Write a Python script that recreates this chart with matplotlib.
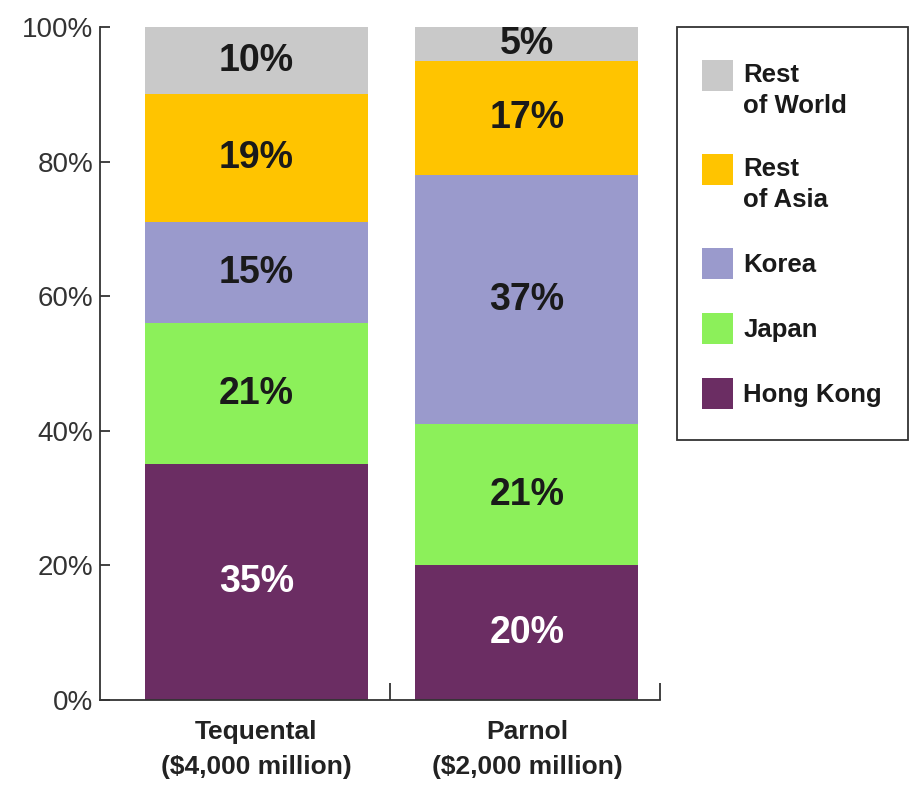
import matplotlib.pyplot as plt
from matplotlib.patches import Patch, Rectangle
from matplotlib.legend_handler import HandlerPatch

plt.rcParams['font.family'] = ['Liberation Sans', 'DejaVu Sans']

# Data
companies = ["Tequental\n($4,000 million)", "Parnol\n($2,000 million)"]
regions = ["Hong Kong", "Japan", "Korea", "Rest\nof Asia", "Rest\nof World"]
hong_kong = [35, 20]
japan = [21, 21]
korea = [15, 37]
rest_asia = [19, 17]
rest_world = [10, 5]
yticks = [0, 20, 40, 60, 80, 100]

colors = ["#6b2d63", "#8cf05a", "#9a9acc", "#ffc400", "#c9c9c9"]
text_colors = ["white", "#1a1a1a", "#1a1a1a", "#1a1a1a", "#1a1a1a"]
axis_col = "#333333"
W, H = 910, 786

fig = plt.figure(figsize=(W / 100, H / 100), dpi=100)
ax = fig.add_axes([100 / W, 1 - 700 / H, 560 / W, 673 / H])

x = [0, 1]
bottom = [0, 0]
series = [hong_kong, japan, korea, rest_asia, rest_world]
for vals, col, tcol in zip(series, colors, text_colors):
    ax.bar(x, vals, width=0.825, bottom=bottom, color=col, linewidth=0)
    for xi, v, b in zip(x, vals, bottom):
        ax.text(xi, b + v / 2, f"{v}%", ha="center", va="center",
                fontsize=27, fontweight="bold", color=tcol)
    bottom = [b + v for b, v in zip(bottom, vals)]

ax.set_xlim(-0.578, 1.492)
ax.set_ylim(0, 100)
ax.set_yticks(yticks)
ax.set_yticklabels([f"{t}%" for t in yticks], fontsize=20, color=axis_col)
ax.tick_params(axis="y", direction="in", length=7, width=1.3, color=axis_col, pad=5)

# small upward ticks between the bars and at the end of the axis
ax.set_xticks([0.494, 1.492])
ax.set_xticklabels(["", ""])
ax.tick_params(axis="x", direction="in", length=12, width=1.3, color=axis_col)
for xi, name in zip(x, companies):
    ax.text(xi, -2.9, name, ha="center", va="top", fontsize=19, fontweight="bold",
            color="#222222", linespacing=1.6, clip_on=False)

for s in ["top", "right"]:
    ax.spines[s].set_visible(False)
for s in ["left", "bottom"]:
    ax.spines[s].set_color(axis_col)
    ax.spines[s].set_linewidth(1.3)

# legend frame drawn by hand, legend itself without frame
frame = Rectangle((677 / W, 1 - 440 / H), 231 / W, 413 / H, transform=fig.transFigure,
                  facecolor="white", edgecolor=axis_col, linewidth=1.3)
fig.patches.append(frame)


def square_patch(legend, orig_handle, xdescent, ydescent, width, height, fontsize):
    # square swatch centred on the row
    return Rectangle((-xdescent, -ydescent + (height - width) / 2), width, width)


def top_patch(legend, orig_handle, xdescent, ydescent, width, height, fontsize):
    # two-line labels: put the square next to the first line
    return Rectangle((-xdescent, -ydescent + (height - width) / 2 + 0.6 * fontsize),
                     width, width)


handles = [Patch(facecolor=c, edgecolor="none") for c in colors]
hmap = {h: HandlerPatch(patch_func=square_patch) for h in handles[:3]}
hmap[handles[3]] = HandlerPatch(patch_func=top_patch)
hmap[handles[4]] = HandlerPatch(patch_func=top_patch)
leg = fig.legend(handles[::-1], regions[::-1], loc="upper left",
                 bbox_to_anchor=(702 / W, 1 - 63 / H), handler_map=hmap,
                 prop={"size": 18.5, "weight": "bold"}, frameon=False,
                 handlelength=1.2, handleheight=1.1, labelspacing=1.52,
                 borderpad=0, handletextpad=0.4, borderaxespad=0)
for t in leg.get_texts():
    t.set_color("#1a1a1a")
    t.set_linespacing(1.36)

fig.savefig("out.png", dpi=100)
